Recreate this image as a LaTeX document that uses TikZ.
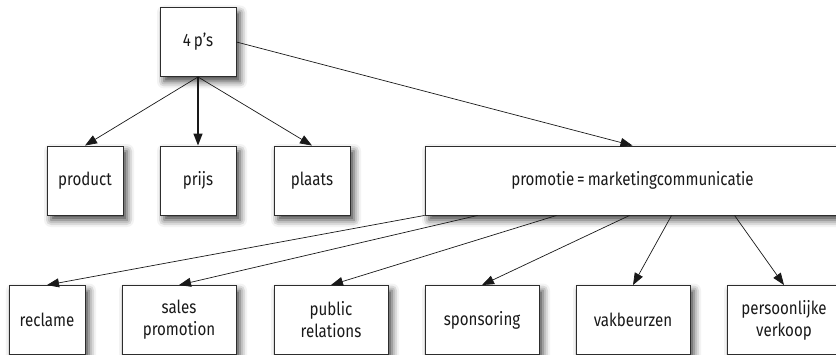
\documentclass[tikz,border=0pt]{standalone}
\usepackage{fontspec}
\setmainfont{Fira Sans}[FakeStretch=0.84]
\usepackage{tikz}
\usetikzlibrary{arrows.meta,shadows.blur,calc}
\definecolor{myframe}{RGB}{45,45,45}
\definecolor{myline}{RGB}{25,25,25}

\begin{document}
\begin{tikzpicture}[x=1pt,y=-1pt,
  box/.style={draw=myframe, line width=0.9pt, fill=white, inner sep=0pt,
    minimum width=76pt, minimum height=69pt, align=center,
    font=\fontsize{18}{22}\selectfont, text=myline,
    blur shadow={shadow xshift=4pt, shadow yshift=-5pt, shadow blur radius=7pt, shadow opacity=75}},
  widebox/.style={box, minimum width=114pt},
  arr/.style={draw=myline, line width=0.7pt, -{Triangle[length=12pt,width=9pt]}}]
\useasboundingbox (0,0) rectangle (836,355);
\node[box] (ps) at (198,42) {4\,p’s};
\node[box] (product) at (85,180.5) {product};
\node[box] (prijs) at (198,180.5) {prijs};
\node[box] (plaats) at (312,180.5) {plaats};
\node[box, minimum width=415pt] (promo) at (632.5,180.5) {promotie\,=\,marketingcommunicatie};
\node[box] (reclame) at (47,320) {reclame};
\node[widebox] (sales) at (179,320) {sales\\promotion};
\node[widebox] (public) at (331,320) {public\\relations};
\node[widebox] (sponsoring) at (482,320) {sponsoring};
\node[widebox] (vakbeurzen) at (633,320) {vakbeurzen};
\node[widebox] (verkoop) at (784,320) {persoonlijke\\verkoop};
\draw[arr] (ps.south) -- (product.north);
\draw[arr, line width=1.4pt] (ps.south) -- (prijs.north);
\draw[arr] (ps.south) -- (plaats.north);
\draw[arr] (ps.east) -- (promo.north);
\draw[arr] (promo.south west) -- (reclame.north);
\draw[arr] ($(promo.south west)+(53,0)$) -- (sales.north);
\draw[arr] ($(promo.south west)+(132,0)$) -- (public.north);
\draw[arr] ($(promo.south west)+(205,0)$) -- (sponsoring.north);
\draw[arr] ($(promo.south west)+(247,0)$) -- (vakbeurzen.north);
\draw[arr] ($(promo.south west)+(310,0)$) -- (verkoop.north);
\end{tikzpicture}
\end{document}
